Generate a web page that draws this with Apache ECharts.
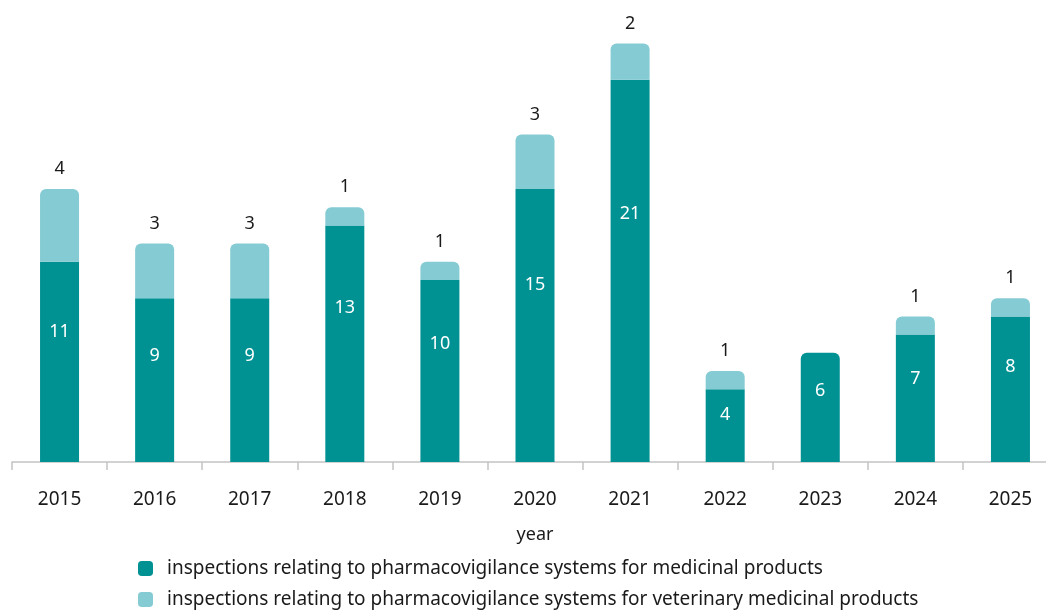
<!DOCTYPE html>
<html>
<head>
<meta charset="utf-8">
<script src="https://cdn.jsdelivr.net/npm/echarts@6/dist/echarts.min.js"></script>
<style>
  html, body { margin: 0; padding: 0; background: #fff; overflow: hidden; }
  /* a bit wider than the window: the last category runs off the right edge */
  #chart { width: 1058px; height: 610px; }
</style>
</head>
<body>
<div id="chart"></div>
<script>
  // years on the x axis
  const years = ['2015', '2016', '2017', '2018', '2019', '2020', '2021', '2022', '2023', '2024', '2025'];
  // inspections - medicinal products (dark)
  const medicinal = [11, 9, 9, 13, 10, 15, 21, 4, 6, 7, 8];
  // inspections - veterinary medicinal products (light)
  const veterinary = [4, 3, 3, 1, 1, 3, 2, 1, null, 1, 1];

  const nameMed = 'inspections relating to pharmacovigilance systems for medicinal products';
  const nameVet = 'inspections relating to pharmacovigilance systems for veterinary medicinal products';

  const darkColor = '#009193';
  const lightColor = '#84cbd3';
  const font = 'Noto Sans';
  const fs = 18;

  let chart = echarts.init(document.getElementById('chart'));

  // dark bar gets rounded top when nothing sits on it
  let medData = medicinal.map(function (v, i) {
    if (veterinary[i] == null) {
      return { value: v, itemStyle: { borderRadius: [6, 6, 0, 0] } };
    }
    return v;
  });

  let legendText = { fontSize: 19, color: '#1a1a1a', fontFamily: font, padding: [0, 0, 0, 9] };

  let option = {
    animation: false,
    textStyle: { fontFamily: font },
    grid: {
      left: 12,
      right: 0,
      top: 7,
      height: 455
    },
    // two legends stacked, one row each
    legend: [
      {
        left: 133,
        top: 554,
        itemWidth: 15,
        itemHeight: 15,
        icon: 'roundRect',
        data: [nameMed],
        textStyle: legendText
      },
      {
        left: 133,
        top: 585,
        itemWidth: 15,
        itemHeight: 15,
        icon: 'roundRect',
        data: [nameVet],
        textStyle: legendText
      }
    ],
    xAxis: {
      type: 'category',
      data: years,
      name: 'year',
      nameLocation: 'middle',
      nameGap: 64,
      nameTextStyle: { fontSize: fs, color: '#1a1a1a', fontFamily: font },
      axisLine: { lineStyle: { color: '#c4c4c4', width: 1.5 } },
      axisTick: { show: true, length: 8, lineStyle: { color: '#c4c4c4', width: 1.5 } },
      axisLabel: { margin: 28, fontSize: 19, color: '#1a1a1a', fontFamily: font }
    },
    yAxis: {
      type: 'value',
      min: 0,
      max: 25,
      show: false,
      splitLine: { show: false }
    },
    series: [
      {
        name: nameMed,
        type: 'bar',
        stack: 'total',
        barWidth: 39,
        data: medData,
        itemStyle: { color: darkColor },
        label: {
          show: true,
          position: ['50%', '35%'],
          align: 'center',
          verticalAlign: 'middle',
          color: '#fff',
          fontSize: fs,
          fontFamily: font
        }
      },
      {
        name: nameVet,
        type: 'bar',
        stack: 'total',
        barWidth: 39,
        data: veterinary,
        itemStyle: { color: lightColor, borderRadius: [6, 6, 0, 0] },
        label: {
          show: true,
          position: 'top',
          distance: 11,
          color: '#1a1a1a',
          fontSize: fs,
          fontFamily: font
        }
      }
    ]
  };

  chart.setOption(option);
</script>
</body>
</html>
